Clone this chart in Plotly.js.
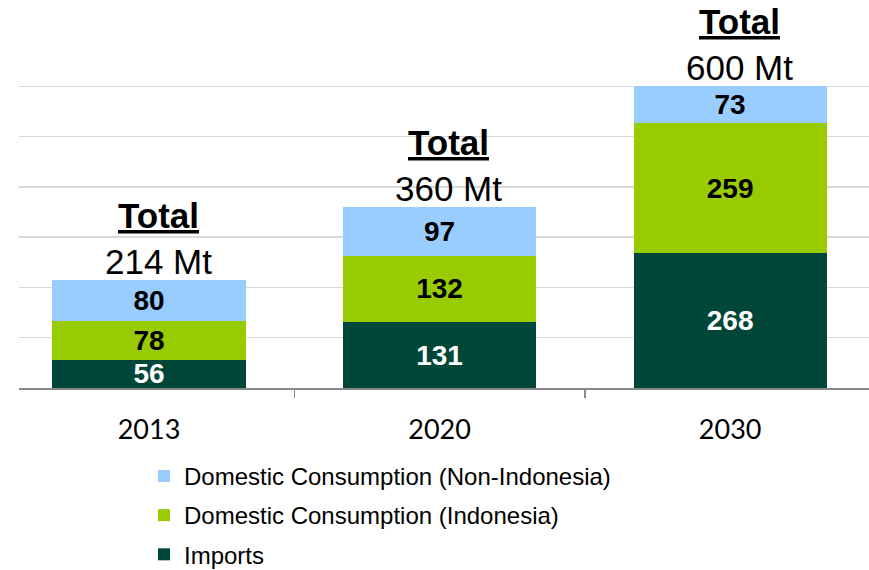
<!DOCTYPE html>
<html><head><meta charset="utf-8">
<script src="https://cdn.plot.ly/plotly-3.0.1.min.js"></script>
<style>html,body{margin:0;padding:0;background:#fff}#chart{width:869px;height:570px}</style>
</head><body><div id="chart"></div>
<script>
const years = ['2013', '2020', '2030'];
const imports = [56, 131, 268];
const domesticIndonesia = [78, 132, 259];
const domesticNonIndonesia = [80, 97, 73];
const seriesNames = ['Imports', 'Domestic Consumption (Indonesia)', 'Domestic Consumption (Non-Indonesia)'];
const seriesColors = ['#00473A', '#99CC00', '#99CCFF'];
const labelColors = ['#ffffff', '#000000', '#000000'];
const legendRanks = [3, 2, 1];
const totalUnit = 'Mt';

const allSeries = [imports, domesticIndonesia, domesticNonIndonesia];
const ARIAL = '"Liberation Sans", Arial, sans-serif';

const traces = allSeries.map((vals, i) => ({
  type: 'bar', x: years, y: vals, name: seriesNames[i],
  legendgroup: 'g' + i, legendrank: legendRanks[i],
  marker: {color: seriesColors[i], line: {width: 0}},
  width: 0.665,
  texttemplate: '<b>%{y}</b>', textposition: 'inside', insidetextanchor: 'middle',
  constraintext: 'none', textangle: 0,
  textfont: {family: ARIAL, size: 28, color: labelColors[i]},
  hoverinfo: 'skip'
}));

const totals = years.map((_, j) => allSeries.reduce((s, a) => s + a[j], 0));
const annotations = years.map((yr, j) => ({
  x: j, y: totals[j], xref: 'x', yref: 'y', yanchor: 'bottom', xanchor: 'center',
  showarrow: false, yshift: -2, xshift: 9, borderpad: 0,
  text: '<b><u>Total</u></b><br>' + totals[j] + ' ' + totalUnit,
  font: {family: ARIAL, size: 35, color: '#000'}
}));

const layout = {
  width: 869, height: 570,
  margin: {l: 19, r: 0, t: 36, b: 182, autoexpand: false},
  paper_bgcolor: '#fff', plot_bgcolor: '#fff',
  barmode: 'stack', bargap: 0.335,
  showlegend: true,
  legend: {
    x: 125 / 850, xref: 'paper', xanchor: 'left',
    y: -0.187, yanchor: 'top',
    traceorder: 'grouped', tracegroupgap: 5,
    font: {family: ARIAL, size: 24, color: '#000'},
    bgcolor: 'rgba(0,0,0,0)'
  },
  xaxis: {
    type: 'category', range: [-0.4475, 2.478],
    showline: true, linecolor: '#898989', linewidth: 1.5,
    ticks: 'outside', tickson: 'boundaries', ticklen: 8, tickcolor: '#898989', tickwidth: 1.5,
    tickfont: {family: 'Lato, Carlito, Calibri, sans-serif', size: 27, color: '#000'},
    ticklabelstandoff: 17,
    showgrid: false, fixedrange: true
  },
  yaxis: {
    range: [0, 700], dtick: 100, showticklabels: false,
    showgrid: true, gridcolor: '#D9D9D9', gridwidth: 1.3,
    zeroline: false, showline: false, ticks: '', fixedrange: true
  },
  annotations: annotations
};

Plotly.newPlot('chart', traces, layout, {displayModeBar: false, staticPlot: true});
</script></body></html>
